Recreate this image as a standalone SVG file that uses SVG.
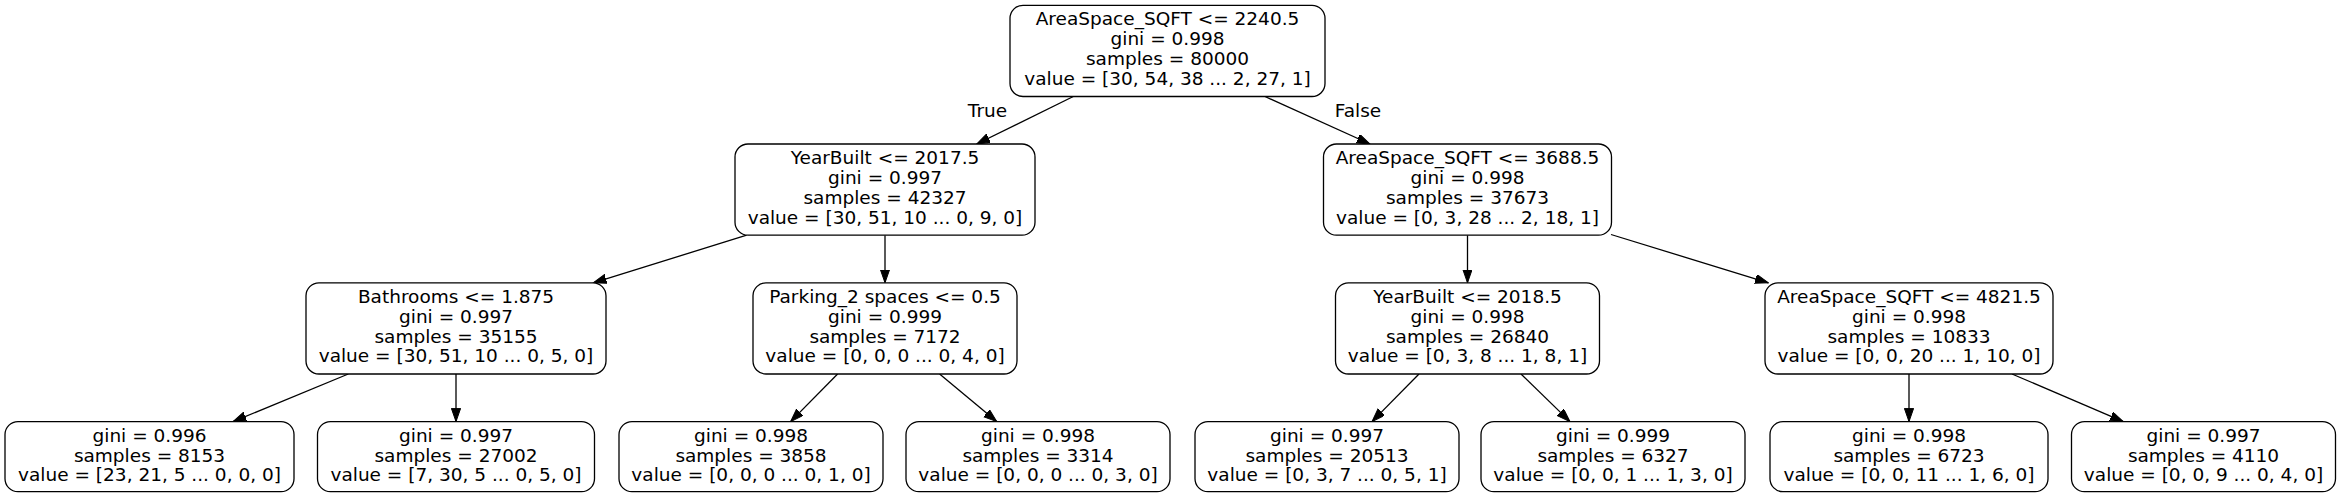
<svg xmlns="http://www.w3.org/2000/svg" width="2341" height="497" viewBox="0 0 2341 497">
<style>
.box{fill:#ffffff;stroke:#000000;stroke-width:1.3}
text{font-family:"DejaVu Sans","Liberation Sans",sans-serif;font-size:18.5px;fill:#000000;text-anchor:middle}
.edge{stroke:#000000;stroke-width:1.3;fill:none;marker-end:url(#arr)}
</style>
<defs>
<marker id="arr" markerUnits="userSpaceOnUse" markerWidth="14" markerHeight="10" refX="13.2" refY="4.6" orient="auto">
<path d="M0,0 L13.2,4.6 L0,9.2 Z" fill="#000000" stroke="#000000" stroke-width="1"/>
</marker>
</defs>
<rect x="0" y="0" width="2341" height="497" fill="#ffffff"/>
<g id="connectors">
<line class="edge" x1="1073.3" y1="96.5" x2="976.7" y2="144"/>
<line class="edge" x1="1265" y1="96.5" x2="1370" y2="144"/>
<line class="edge" x1="746.7" y1="235.2" x2="593.3" y2="282.8"/>
<line class="edge" x1="885" y1="235.2" x2="885" y2="282.8"/>
<line class="edge" x1="1467.5" y1="235.2" x2="1467.5" y2="282.8"/>
<line class="edge" x1="1611" y1="234.5" x2="1768.3" y2="282.8"/>
<line class="edge" x1="348.3" y1="374" x2="233" y2="421.6"/>
<line class="edge" x1="456" y1="374" x2="456" y2="421.6"/>
<line class="edge" x1="837.6" y1="374" x2="790.6" y2="421.6"/>
<line class="edge" x1="939.6" y1="374" x2="996.7" y2="421.6"/>
<line class="edge" x1="1419" y1="374" x2="1372" y2="421.6"/>
<line class="edge" x1="1521" y1="374" x2="1570" y2="421.6"/>
<line class="edge" x1="1909" y1="374" x2="1909" y2="421.6"/>
<line class="edge" x1="2012" y1="374" x2="2123.3" y2="421.6"/>
<text x="987.5" y="116.5">True</text>
<text x="1358" y="116.5">False</text>
</g>
<g id="n0">
<rect class="box" x="1010" y="5.3" width="315" height="91.2" rx="13"/>
<text x="1167.5" y="25.4">AreaSpace_SQFT &lt;= 2240.5</text>
<text x="1167.5" y="45.2">gini = 0.998</text>
<text x="1167.5" y="65">samples = 80000</text>
<text x="1167.5" y="84.8">value = [30, 54, 38 ... 2, 27, 1]</text>
</g>
<g id="n1">
<rect class="box" x="735" y="144" width="300" height="91.2" rx="13"/>
<text x="885" y="164.1">YearBuilt &lt;= 2017.5</text>
<text x="885" y="183.9">gini = 0.997</text>
<text x="885" y="203.7">samples = 42327</text>
<text x="885" y="223.5">value = [30, 51, 10 ... 0, 9, 0]</text>
</g>
<g id="n8">
<rect class="box" x="1323.5" y="144" width="288" height="91.2" rx="13"/>
<text x="1467.5" y="164.1">AreaSpace_SQFT &lt;= 3688.5</text>
<text x="1467.5" y="183.9">gini = 0.998</text>
<text x="1467.5" y="203.7">samples = 37673</text>
<text x="1467.5" y="223.5">value = [0, 3, 28 ... 2, 18, 1]</text>
</g>
<g id="n2">
<rect class="box" x="306" y="282.8" width="300" height="91.2" rx="13"/>
<text x="456" y="302.9">Bathrooms &lt;= 1.875</text>
<text x="456" y="322.7">gini = 0.997</text>
<text x="456" y="342.5">samples = 35155</text>
<text x="456" y="362.3">value = [30, 51, 10 ... 0, 5, 0]</text>
</g>
<g id="n5">
<rect class="box" x="753" y="282.8" width="264" height="91.2" rx="13"/>
<text x="885" y="302.9">Parking_2 spaces &lt;= 0.5</text>
<text x="885" y="322.7">gini = 0.999</text>
<text x="885" y="342.5">samples = 7172</text>
<text x="885" y="362.3">value = [0, 0, 0 ... 0, 4, 0]</text>
</g>
<g id="n9">
<rect class="box" x="1335.5" y="282.8" width="264" height="91.2" rx="13"/>
<text x="1467.5" y="302.9">YearBuilt &lt;= 2018.5</text>
<text x="1467.5" y="322.7">gini = 0.998</text>
<text x="1467.5" y="342.5">samples = 26840</text>
<text x="1467.5" y="362.3">value = [0, 3, 8 ... 1, 8, 1]</text>
</g>
<g id="n12">
<rect class="box" x="1765" y="282.8" width="288" height="91.2" rx="13"/>
<text x="1909" y="302.9">AreaSpace_SQFT &lt;= 4821.5</text>
<text x="1909" y="322.7">gini = 0.998</text>
<text x="1909" y="342.5">samples = 10833</text>
<text x="1909" y="362.3">value = [0, 0, 20 ... 1, 10, 0]</text>
</g>
<g id="n3">
<rect class="box" x="5" y="421.6" width="289" height="70.1" rx="13"/>
<text x="149.5" y="441.7">gini = 0.996</text>
<text x="149.5" y="461.5">samples = 8153</text>
<text x="149.5" y="481.3">value = [23, 21, 5 ... 0, 0, 0]</text>
</g>
<g id="n4">
<rect class="box" x="317.5" y="421.6" width="277" height="70.1" rx="13"/>
<text x="456" y="441.7">gini = 0.997</text>
<text x="456" y="461.5">samples = 27002</text>
<text x="456" y="481.3">value = [7, 30, 5 ... 0, 5, 0]</text>
</g>
<g id="n6">
<rect class="box" x="619" y="421.6" width="264" height="70.1" rx="13"/>
<text x="751" y="441.7">gini = 0.998</text>
<text x="751" y="461.5">samples = 3858</text>
<text x="751" y="481.3">value = [0, 0, 0 ... 0, 1, 0]</text>
</g>
<g id="n7">
<rect class="box" x="906" y="421.6" width="264" height="70.1" rx="13"/>
<text x="1038" y="441.7">gini = 0.998</text>
<text x="1038" y="461.5">samples = 3314</text>
<text x="1038" y="481.3">value = [0, 0, 0 ... 0, 3, 0]</text>
</g>
<g id="n10">
<rect class="box" x="1195" y="421.6" width="264" height="70.1" rx="13"/>
<text x="1327" y="441.7">gini = 0.997</text>
<text x="1327" y="461.5">samples = 20513</text>
<text x="1327" y="481.3">value = [0, 3, 7 ... 0, 5, 1]</text>
</g>
<g id="n11">
<rect class="box" x="1481" y="421.6" width="264" height="70.1" rx="13"/>
<text x="1613" y="441.7">gini = 0.999</text>
<text x="1613" y="461.5">samples = 6327</text>
<text x="1613" y="481.3">value = [0, 0, 1 ... 1, 3, 0]</text>
</g>
<g id="n13">
<rect class="box" x="1770" y="421.6" width="278" height="70.1" rx="13"/>
<text x="1909" y="441.7">gini = 0.998</text>
<text x="1909" y="461.5">samples = 6723</text>
<text x="1909" y="481.3">value = [0, 0, 11 ... 1, 6, 0]</text>
</g>
<g id="n14">
<rect class="box" x="2071.5" y="421.6" width="264" height="70.1" rx="13"/>
<text x="2203.5" y="441.7">gini = 0.997</text>
<text x="2203.5" y="461.5">samples = 4110</text>
<text x="2203.5" y="481.3">value = [0, 0, 9 ... 0, 4, 0]</text>
</g>
</svg>
